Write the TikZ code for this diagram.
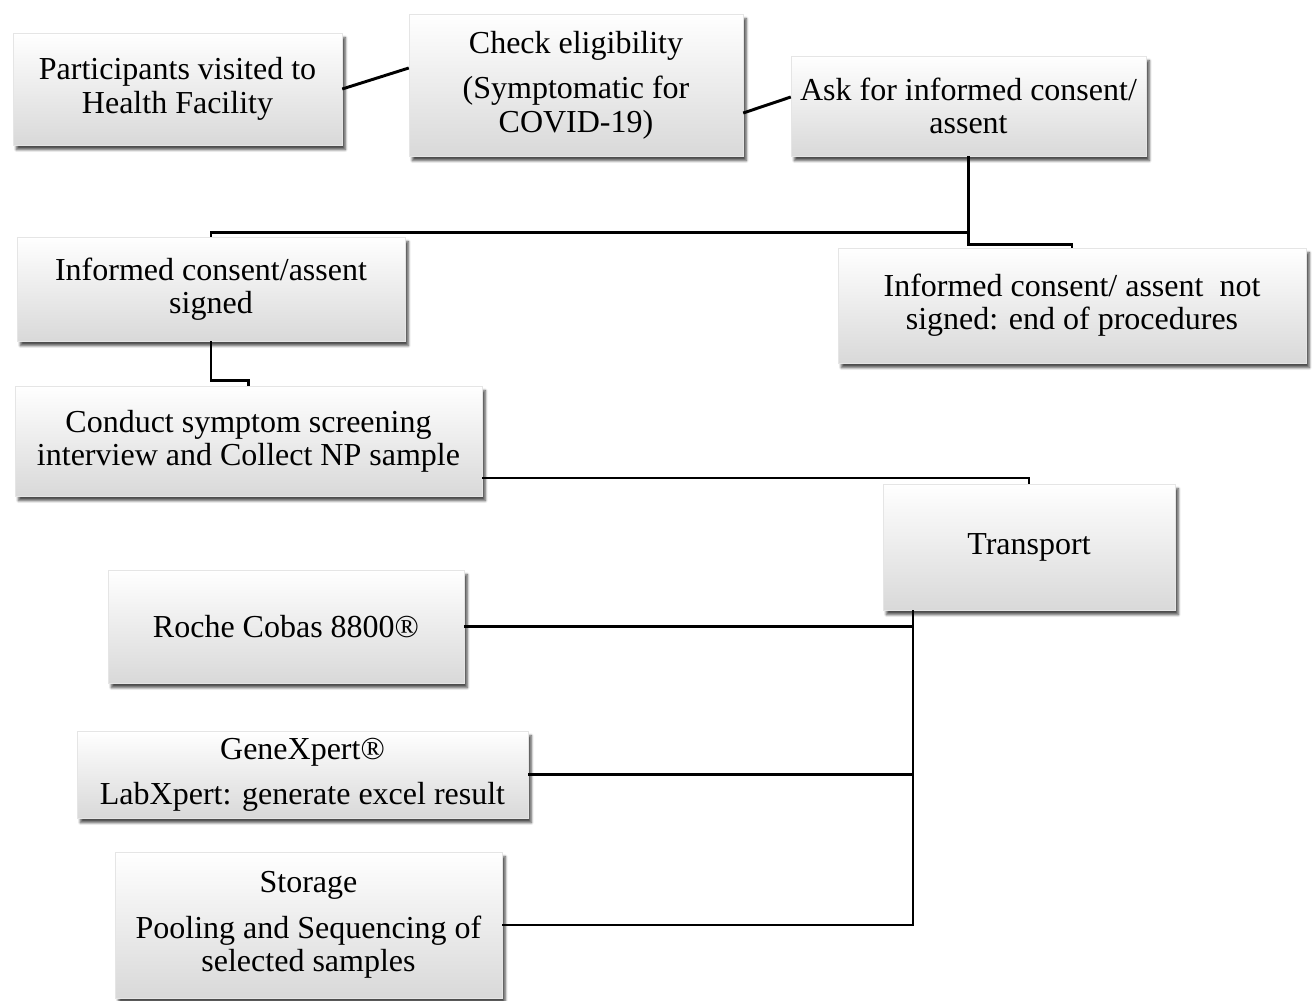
\documentclass[tikz,border=0pt]{standalone}
\usepackage{fontspec}
\setmainfont{Liberation Serif}
\usetikzlibrary{shadows.blur,calc}
\begin{document}
\begin{tikzpicture}[x=0.75pt,y=-0.75pt,
  box/.style={rectangle, draw=black!10, line width=0.3pt,
    top color=white, middle color=white, bottom color=black!15,
    blur shadow={shadow xshift=2.5pt, shadow yshift=-3.5pt, shadow blur steps=8, shadow opacity=70},
    font=\fontsize{24}{25}\selectfont, align=center, inner sep=0pt},
  sz/.style 2 args={minimum width=#1*0.75pt, minimum height=#2*0.75pt},
  conn/.style={line width=2.2pt, black}]
\useasboundingbox (0,0) rectangle (1313,1000);
\node[box, sz={329}{112}] (p) at (177.5,89) {Participants visited to\\Health Facility};
\node[box, sz={334}{142}] (c) at (576,85) {Check eligibility\\[9pt](Symptomatic for\\COVID-19)};
\node[box, sz={355}{100}] (a) at (968.5,106) {Ask for informed consent/\\assent};
\node[box, sz={388}{104}] (s) at (211,289) {Informed consent/assent\\signed};
\node[box, sz={468}{115}] (n) at (1072,305.5) {Informed consent/ assent\ \ not\\signed: end of procedures};
\node[box, sz={467}{110}] (cd) at (248.5,441) {Conduct symptom screening\\interview and Collect NP sample};
\node[box, sz={292}{126}] (t) at (1029,547) {Transport};
\node[box, sz={356}{113}] (r) at (286,626.5) {Roche Cobas 8800®};
\node[box, sz={451}{87}] (g) at (302.5,774.5) {GeneXpert®\\[9pt]LabXpert: generate excel result};
\node[box, sz={387}{146}] (st) at (308.5,925) {Storage\\[9pt]Pooling and Sequencing of\\selected samples};

\draw[conn] (p.east) -- ($(c.west)+(0,-17)$);
\draw[conn] ($(c.east)+(0,28)$) -- ($(a.west)+(0,-9)$);
\coordinate (j1) at ($(a.south)+(0,76)$);
\coordinate (j2) at ($(a.south)+(0,88)$);
\draw[conn] (a.south) -- (j1) -| (s.north);
\draw[conn] (j1) -- (j2) -| (n.north);
\coordinate (j3) at ($(s.south)+(0,39)$);
\draw[conn] (s.south) -- (j3) -| (cd.north);
\draw[conn] ($(cd.east)+(0,37)$) -| (t.north);
\coordinate (bt) at ($(t.south)+(-116,0)$);
\coordinate (bb) at (bt |- st.east);
\draw[conn] (bt) -- (bb) -- (st.east);
\draw[conn] (r.east) -- (r.east -| bt);
\draw[conn] (g.east) -- (g.east -| bt);
\end{tikzpicture}
\end{document}
